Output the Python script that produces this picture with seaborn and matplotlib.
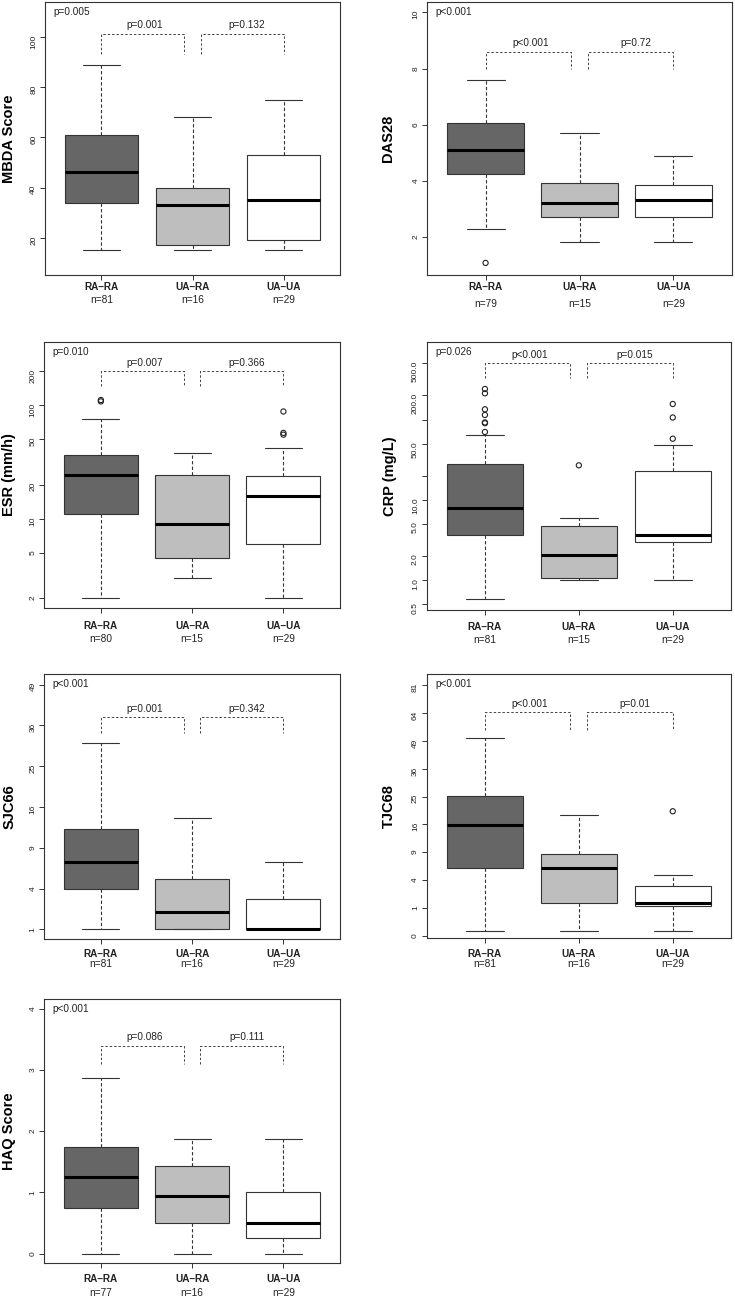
import numpy as np
import pandas as pd
import seaborn as sns
import matplotlib.pyplot as plt
from matplotlib.ticker import NullLocator
from matplotlib.transforms import blended_transform_factory

groups = ['RA–RA', 'UA–RA', 'UA–UA']
box_colors = ['#666666', '#bebebe', '#ffffff']

# five-number summaries: whisker low, Q1, median, Q3, whisker high
mbda_stats = [[15, 34, 46, 61, 89], [15, 17, 33, 40, 68], [15, 19, 35, 53, 75]]
mbda_out = [[], [], []]
mbda_n = [81, 16, 29]
mbda_p = ['p=0.005', 'p=0.001', 'p=0.132']

das_stats = [[2.3, 4.26, 5.1, 6.08, 7.58], [1.82, 2.71, 3.23, 3.94, 5.7], [1.82, 2.71, 3.34, 3.87, 4.9]]
das_out = [[1.09], [], []]
das_n = [79, 15, 29]
das_p = ['p<0.001', 'p<0.001', 'p=0.72']

esr_stats = [[2, 11, 24.5, 36.7, 75.7], [3, 4.5, 9, 24.5, 37.7], [2, 6, 16, 24, 42]]
esr_out = [[108, 111], [], [55, 57, 88]]
esr_n = [80, 15, 29]
esr_p = ['p=0.010', 'p=0.007', 'p=0.366']

crp_stats = [[0.59, 3.7, 8.0, 28.2, 64], [1.0, 1.05, 2.07, 4.7, 6.0], [1.0, 2.98, 3.68, 22.6, 47.7]]
crp_out = [[70, 90, 92, 114, 134, 212, 240], [26.9], [57.7, 106, 156]]
crp_n = [81, 15, 29]
crp_p = ['p=0.026', 'p<0.001', 'p=0.015']

sjc_stats = [[1, 4, 7, 12, 31], [1, 1, 2, 5, 14], [1, 1, 1, 3, 7]]
sjc_out = [[], [], []]
sjc_n = [81, 16, 29]
sjc_p = ['p<0.001', 'p=0.001', 'p=0.342']

tjc_stats = [[0.03, 5.9, 15.7, 25.2, 50.6], [0.03, 1.35, 5.9, 8.6, 18.8], [0.03, 1.11, 1.41, 3.19, 4.76]]
tjc_out = [[], [], [20]]
tjc_n = [81, 16, 29]
tjc_p = ['p<0.001', 'p<0.001', 'p=0.01']

haq_stats = [[0, 0.75, 1.25, 1.75, 2.875], [0, 0.5, 0.9375, 1.4375, 1.875], [0, 0.25, 0.5, 1.0, 1.875]]
haq_out = [[], [], []]
haq_n = [77, 16, 29]
haq_p = ['p<0.001', 'p=0.086', 'p=0.111']

panels = [
    dict(label='MBDA Score', stats=mbda_stats, out=mbda_out, n=mbda_n, p=mbda_p, scale='linear',
         ylim=(5.1, 114), yticks=[20, 40, 60, 80, 100], ylabels=['20', '40', '60', '80', '100'],
         bracket=(101.3, 93.3)),
    dict(label='DAS28', stats=das_stats, out=das_out, n=das_n, p=das_p, scale='linear',
         ylim=(0.65, 10.38), yticks=[2, 4, 6, 8, 10], ylabels=['2', '4', '6', '8', '10'],
         bracket=(8.6, 8.0)),
    dict(label='ESR (mm/h)', stats=esr_stats, out=esr_out, n=esr_n, p=esr_p, scale='log',
         ylim=(1.63, 362), yticks=[2, 5, 10, 20, 50, 100, 200],
         ylabels=['2', '5', '10', '20', '50', '100', '200'], bracket=(200, 149)),
    dict(label='CRP (mg/L)', stats=crp_stats, out=crp_out, n=crp_n, p=crp_p, scale='log',
         ylim=(0.425, 931), yticks=[0.5, 1, 2, 5, 10, 20, 50, 100, 200, 500],
         ylabels=['0.5', '1.0', '2.0', '5.0', '10.0', '', '50.0', '', '200.0', '500.0'],
         bracket=(500, 325)),
    dict(label='SJC66', stats=sjc_stats, out=sjc_out, n=sjc_n, p=sjc_p, scale='sqrt',
         ylim=(0.594, 52.7), yticks=[1, 4, 9, 16, 25, 36, 49],
         ylabels=['1', '4', '9', '16', '25', '36', '49'], bracket=(38.5, 33.7)),
    dict(label='TJC68', stats=tjc_stats, out=tjc_out, n=tjc_n, p=tjc_p, scale='sqrt',
         ylim=(-0.0092, 88.5), yticks=[0, 1, 4, 9, 16, 25, 36, 49, 64, 81],
         ylabels=['0', '1', '4', '9', '16', '25', '36', '49', '64', '81'], bracket=(64.5, 54.7)),
    dict(label='HAQ Score', stats=haq_stats, out=haq_out, n=haq_n, p=haq_p, scale='linear',
         ylim=(-0.158, 4.163), yticks=[0, 1, 2, 3, 4], ylabels=['0', '1', '2', '3', '4'],
         bracket=(3.4, 3.1)),
]

# axes boxes in pixels: left, top, right, bottom ; offsets of y label and x labels
boxes = [(45, 2, 340, 275), (427.3, 1.7, 731.7, 275.3), (44.3, 341.7, 340, 608.3),
         (426.7, 341.7, 731, 610), (44.3, 674, 340, 938.7), (426.7, 674, 731, 938.3),
         (44.3, 999, 340, 1263.3)]
ylab_off = [36, 39, 35, 37, 35, 38, 35]
xlab_off = [(12, 25), (12, 29), (18, 31), (17, 30), (15.5, 25.5), (15.5, 26), (16, 30)]

W, H = 735, 1298
sns.set_style('white')
plt.rcParams['font.family'] = ['Liberation Sans', 'DejaVu Sans']

edge = '#333333'
fig = plt.figure(figsize=(W / 100, H / 100), dpi=100)


def fwd(v):
    return np.sign(v) * np.sqrt(np.abs(v))


def inv(v):
    return np.sign(v) * np.square(v)


for pan, (l, t, r, b), yo, (no, nn) in zip(panels, boxes, ylab_off, xlab_off):
    ax = fig.add_axes([l / W, 1 - b / H, (r - l) / W, (b - t) / H])
    rows = [(g, v) for g, s in zip(groups, pan['stats']) for v in s]
    df = pd.DataFrame(rows, columns=['group', 'value'])
    sns.boxplot(data=df, x='group', y='value', hue='group', order=groups, hue_order=groups,
                palette=box_colors, saturation=1, legend=False, whis=(0, 100), width=0.81,
                showfliers=False, linewidth=0.8, linecolor=edge, ax=ax,
                medianprops=dict(color='black', linewidth=2.2),
                whiskerprops=dict(color=edge, linestyle=(0, (3, 2)), linewidth=0.8),
                capprops=dict(color=edge, linewidth=0.8))
    for i, pts in enumerate(pan['out']):
        if pts:
            ax.scatter(np.full(len(pts), i), pts, s=14, facecolors='none',
                       edgecolors='#222222', linewidths=0.8, zorder=5)

    if pan['scale'] == 'log':
        ax.set_yscale('log')
    elif pan['scale'] == 'sqrt':
        ax.set_yscale('function', functions=(fwd, inv))
    ax.set_ylim(*pan['ylim'])
    ax.set_xlim(-0.62, 2.62)
    ax.set_yticks(pan['yticks'])
    ax.set_yticklabels(pan['ylabels'])
    ax.yaxis.set_minor_locator(NullLocator())
    ax.set_xticks([0, 1, 2])
    ax.set_xticklabels([])
    ax.set_xlabel('')
    ax.tick_params(axis='both', direction='out', length=3.6, width=0.7, color=edge,
                   labelsize=6, labelcolor='#222222', pad=2, left=True, bottom=True)
    ax.tick_params(axis='y', labelrotation=90)
    for sp in ax.spines.values():
        sp.set_visible(True)
        sp.set_color(edge)
        sp.set_linewidth(0.8)

    ax.set_ylabel(pan['label'], fontsize=10.5, fontweight='bold', color='black')
    ax.yaxis.set_label_coords(-yo / (r - l), 0.5)
    ax.yaxis.label.set_va('center')

    trans = blended_transform_factory(ax.transData, ax.transAxes)
    for i, g in enumerate(groups):
        ax.annotate(g, xy=(i, 0), xycoords=trans, xytext=(0, -no * 0.72),
                    textcoords='offset points', ha='center', va='center',
                    fontsize=7.2, fontweight='bold', color='#222222', annotation_clip=False)
        ax.annotate(f'n={pan["n"][i]}', xy=(i, 0), xycoords=trans, xytext=(0, -nn * 0.72),
                    textcoords='offset points', ha='center', va='center',
                    fontsize=7.3, color='#222222', annotation_clip=False)

    # overall p-value and pairwise brackets
    ax.annotate(pan['p'][0], xy=(0, 1), xycoords='axes fraction', xytext=(6, -7.5),
                textcoords='offset points', ha='left', va='center', fontsize=7.2, color='#222222')
    top, drop = pan['bracket']
    for (x0, x1, xt), lab in zip([(0, 0.91, 0.48), (1.09, 2, 1.6)], pan['p'][1:]):
        ax.plot([x0, x0, x1, x1], [drop, top, top, drop], color='#444444', linewidth=0.7,
                linestyle=(0, (2.5, 2)))
        ax.annotate(lab, xy=(xt, top), xycoords='data', xytext=(0, 2.5),
                    textcoords='offset points', ha='center', va='bottom', fontsize=7.2,
                    color='#222222')

fig.savefig('out.png', dpi=100)
